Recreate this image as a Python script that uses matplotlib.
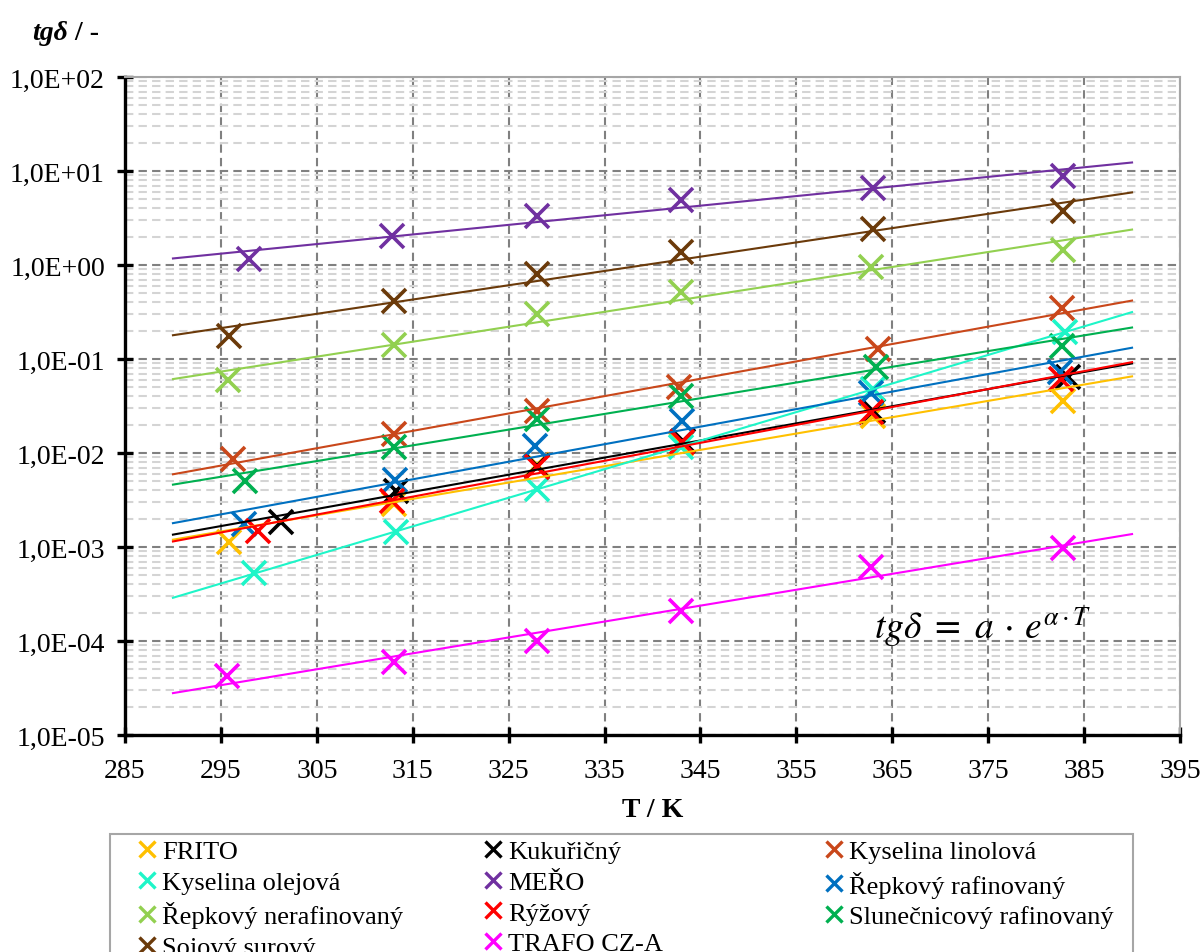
import numpy as np
import matplotlib
matplotlib.use("Agg")
import matplotlib.pyplot as plt
from matplotlib.lines import Line2D
from matplotlib.patches import Rectangle
from matplotlib.ticker import FixedLocator, LogLocator, FuncFormatter, NullFormatter

plt.rcParams['font.family'] = ['Liberation Serif', 'DejaVu Serif']
plt.rcParams['mathtext.fontset'] = 'stix'

# measured loss factor vs temperature for each oil
names = ['FRITO', 'Kukuřičný', 'Kyselina linolová', 'Kyselina olejová', 'MEŘO',
         'Řepkový rafinovaný', 'Řepkový nerafinovaný', 'Rýžový',
         'Slunečnicový rafinovaný', 'Sojový surový', 'TRAFO CZ-A']
colors = ['#FFC000', '#000000', '#C9471A', '#1EF5C8', '#7030A0',
          '#0070C0', '#92D050', '#FF0000', '#00B050', '#6B3A0A', '#FF00FF']

T_frito = [295.8, 313.0, 328.0, 343.0, 363.0, 382.8]
tg_frito = [1.13e-3, 2.86e-3, 7.5e-3, 1.25e-2, 2.48e-2, 3.57e-2]
T_kukuricny = [301.3, 313.3, 328.0, 343.2, 363.0, 383.3]
tg_kukuricny = [1.85e-3, 3.94e-3, 7.3e-3, 1.34e-2, 2.8e-2, 6.44e-2]
T_linolova = [296.3, 313.0, 328.0, 342.8, 363.5, 382.7]
tg_linolova = [8.6e-3, 1.59e-2, 2.8e-2, 5.0e-2, 1.28e-1, 3.49e-1]
T_olejova = [298.5, 313.3, 328.0, 343.0, 363.0, 383.0]
tg_olejova = [5.3e-4, 1.45e-3, 4.14e-3, 1.16e-2, 4.8e-2, 1.94e-1]
T_mero = [297.9, 312.8, 328.0, 343.0, 363.0, 382.8]
tg_mero = [1.16, 2.04, 3.32, 4.91, 6.6, 8.85]
T_repka_raf = [297.4, 313.2, 327.8, 343.1, 362.8, 382.5]
tg_repka_raf = [1.76e-3, 5.16e-3, 1.19e-2, 2.19e-2, 4.35e-2, 7.28e-2]
T_repka_neraf = [295.7, 313.0, 328.0, 343.0, 362.8, 382.8]
tg_repka_neraf = [6.0e-2, 1.41e-1, 3.01e-1, 5.16e-1, 9.53e-1, 1.44]
T_ryzovy = [298.9, 312.8, 328.0, 343.1, 362.8, 382.6]
tg_ryzovy = [1.48e-3, 3.08e-3, 7.1e-3, 1.31e-2, 2.73e-2, 6.13e-2]
T_slunecnice = [297.5, 313.0, 328.0, 343.0, 363.3, 382.7]
tg_slunecnice = [5.04e-3, 1.16e-2, 2.3e-2, 4.04e-2, 8.22e-2, 1.37e-1]
T_soja = [295.8, 313.0, 328.0, 343.0, 363.0, 382.8]
tg_soja = [0.176, 0.41, 0.80, 1.37, 2.42, 3.75]
T_trafo = [295.6, 313.0, 328.0, 343.0, 362.8, 382.8]
tg_trafo = [4.25e-5, 5.98e-5, 1.0e-4, 2.08e-4, 6.12e-4, 9.75e-4]

temps = [T_frito, T_kukuricny, T_linolova, T_olejova, T_mero, T_repka_raf,
         T_repka_neraf, T_ryzovy, T_slunecnice, T_soja, T_trafo]
values = [tg_frito, tg_kukuricny, tg_linolova, tg_olejova, tg_mero, tg_repka_raf,
          tg_repka_neraf, tg_ryzovy, tg_slunecnice, tg_soja, tg_trafo]

x_ticks = list(range(285, 396, 10))
trend_range = (290, 390)

W, H = 1203, 953
fig = plt.figure(figsize=(W / 100, H / 100), dpi=100)
ax = fig.add_axes([125 / W, 1 - 736 / H, (1180 - 125) / W, (736 - 78) / H])

# data points and exponential trend lines  tg = a*exp(alpha*T)
T_fit = np.linspace(trend_range[0], trend_range[1], 200)
for T, tg, c in zip(temps, values, colors):
    ax.plot(T, tg, linestyle='none', marker='x', markersize=17,
            markeredgewidth=2.6, color=c, zorder=3)
    alpha, ln_a = np.polyfit(T, np.log(tg), 1)
    ax.plot(T_fit, np.exp(ln_a) * np.exp(alpha * T_fit), color=c, lw=1.5, zorder=4)

ax.set_yscale('log')
ax.set_xlim(285, 395)
ax.set_ylim(1e-5, 1e2)
ax.xaxis.set_major_locator(FixedLocator(x_ticks))
ax.yaxis.set_major_locator(LogLocator(base=10, numticks=20))
ax.yaxis.set_minor_locator(LogLocator(base=10, subs=np.arange(2, 10), numticks=20))
ax.yaxis.set_minor_formatter(NullFormatter())


def sci_comma(v, pos):
    exp = int(round(np.log10(v)))
    return '1,0E%s%02d' % ('+' if exp >= 0 else '-', abs(exp))


ax.yaxis.set_major_formatter(FuncFormatter(sci_comma))

ax.grid(which='major', axis='both', color='#808080', lw=1.5, ls=(0, (4, 2.5)), zorder=1)
ax.grid(which='minor', axis='y', color='#d4d4d4', lw=1.5, ls=(0, (4, 2.5)), zorder=0)
ax.set_axisbelow(True)

for side in ('left', 'bottom'):
    ax.spines[side].set_linewidth(2.4)
    ax.spines[side].set_color('black')
for side in ('top', 'right'):
    ax.spines[side].set_linewidth(1.5)
    ax.spines[side].set_color('#a6a6a6')

ax.tick_params(which='major', direction='inout', length=11, width=2.4,
               labelsize=20)
ax.tick_params(axis='y', pad=9)
ax.tick_params(axis='x', pad=11)
ax.tick_params(which='minor', length=0)

ax.set_xlabel('T / K', fontsize=20, fontweight='bold', labelpad=10)

# y axis title: italic tgδ followed by upright " / -"
t1 = fig.text(32 / W, 1 - 40 / H, 'tgδ', fontsize=20, fontweight='bold',
              fontstyle='italic')
ax.annotate(' / -', xy=(1, 0), xycoords=t1, va='bottom', fontsize=20,
            fontweight='bold')

ax.text(983 / W, 1 - 628 / H, r'$tg\delta\ =\ a\,\cdot\,e^{\alpha \cdot T}$',
        fontsize=27, transform=fig.transFigure, ha='center', va='center')

# legend box with three equal columns, filled row by row
fig.patches.append(Rectangle((110 / W, -0.1), (1133 - 110) / W, 0.1 + 1 - 835 / H,
                             transform=fig.transFigure, fill=False,
                             edgecolor='#a6a6a6', lw=1.5))
handles = [Line2D([], [], linestyle='none', marker='x', markersize=12,
                  markeredgewidth=2.4, color=c) for c in colors]
col_x = [138, 484, 825]
for j, x0 in enumerate(col_x):
    idx = list(range(j, len(names), 3))
    fig.legend([handles[i] for i in idx], [names[i] for i in idx],
               loc='upper left', bbox_to_anchor=(x0 / W, 1 - 841 / H),
               frameon=False, fontsize=19, handlelength=0.7, handletextpad=0.2,
               labelspacing=0.27, borderpad=0, borderaxespad=0)

fig.savefig('out.png', dpi=100)
